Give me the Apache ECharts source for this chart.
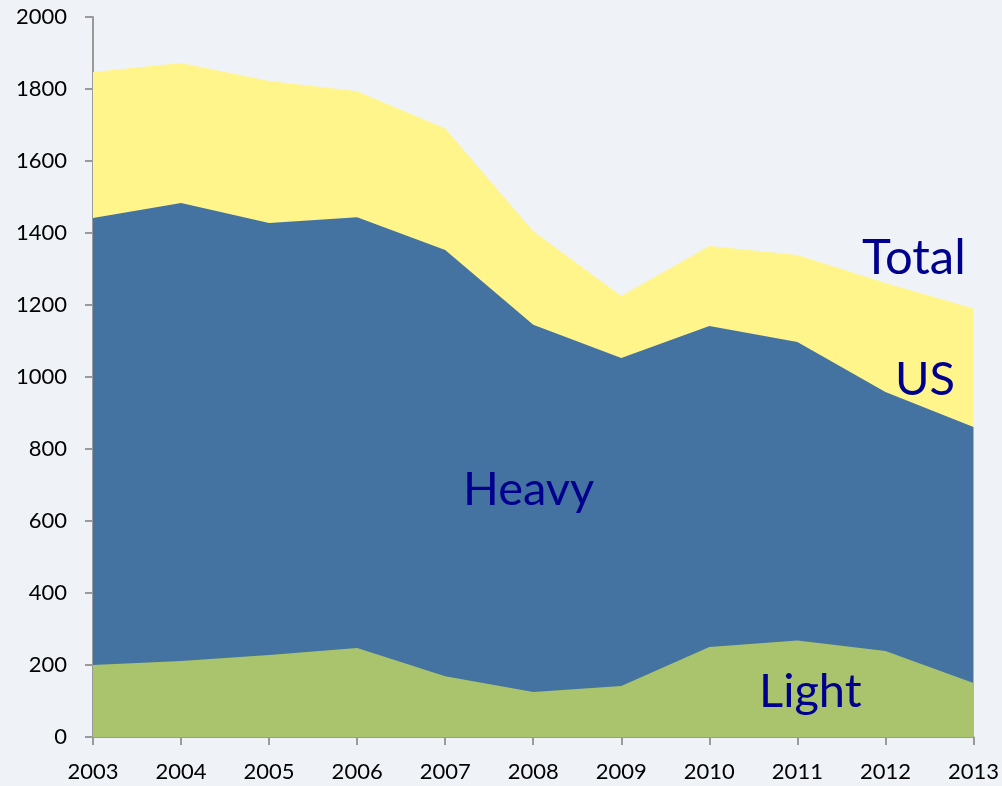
<!DOCTYPE html>
<html lang="en">
<head>
    <meta charset="UTF-8">
    <title>Total / US / Heavy / Light</title>
    <script src="https://cdn.jsdelivr.net/npm/echarts@6/dist/echarts.min.js"></script>
    <style>
        html, body { margin: 0; padding: 0; background: #eff3f8; }
        #main { width: 1002px; height: 786px; }
    </style>
</head>
<body>
<div id="main"></div>
<script>
    // values
    var years = ['2003', '2004', '2005', '2006', '2007', '2008', '2009', '2010', '2011', '2012', '2013'];
    var total = [1847, 1872, 1822, 1794, 1690, 1405, 1225, 1364, 1339, 1261, 1190];   // top of yellow
    var heavyTop = [1442, 1483, 1428, 1444, 1353, 1145, 1053, 1142, 1097, 958, 861]; // top of blue
    var light = [200, 211, 228, 247, 169, 125, 142, 250, 268, 239, 150];            // top of green

    var labelColor = '#00008f';
    var font = 'Lato, "Open Sans", sans-serif';

    var myChart = echarts.init(document.getElementById('main'));

    var areaSeries = function (name, data, color, z) {
        return {
            name: name,
            type: 'line',
            data: data,
            z: z,
            symbol: 'none',
            silent: true,
            lineStyle: {width: 0},
            areaStyle: {color: color, opacity: 1}
        };
    };

    var option = {
        backgroundColor: '#eff3f8',
        animation: false,
        grid: {left: 93, right: 27, top: 17, bottom: 49},
        xAxis: {
            type: 'category',
            data: years,
            boundaryGap: false,
            axisLine: {lineStyle: {color: '#9a9a9a', width: 2}},
            axisTick: {show: true, length: 8, inside: false, alignWithLabel: true, lineStyle: {color: '#9a9a9a', width: 2}},
            axisLabel: {color: '#000', fontSize: 22, fontFamily: font, margin: 24, interval: 0}
        },
        yAxis: {
            type: 'value',
            min: 0,
            max: 2000,
            interval: 200,
            splitLine: {show: false},
            axisLine: {show: true, lineStyle: {color: '#9a9a9a', width: 2}},
            axisTick: {show: true, length: 8, lineStyle: {color: '#9a9a9a', width: 2}},
            axisLabel: {color: '#000', fontSize: 22, fontFamily: font, margin: 26,
                formatter: function (v) { return String(v); }}
        },
        series: [
            areaSeries('Total', total, '#fff58b', 1),
            areaSeries('Heavy', heavyTop, '#4573a1', 2),
            areaSeries('Light', light, '#a9c46c', 3)
        ],
        graphic: [
            {type: 'text', left: 862, top: 234, z: 10, style: {text: 'Total', fill: labelColor, fontSize: 49, fontFamily: font}},
            {type: 'text', left: 895, top: 356, z: 10, style: {text: 'US', fill: labelColor, fontSize: 47, fontFamily: font}},
            {type: 'text', left: 463, top: 466, z: 10, style: {text: 'Heavy', fill: labelColor, fontSize: 47, fontFamily: font}},
            {type: 'text', left: 759, top: 668, z: 10, style: {text: 'Light', fill: labelColor, fontSize: 47, fontFamily: font}}
        ]
    };

    myChart.setOption(option);
</script>
</body>
</html>
